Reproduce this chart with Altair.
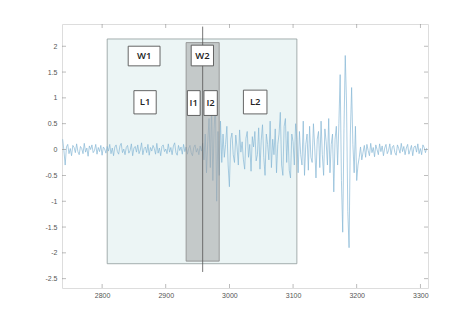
import altair as alt
import pandas as pd

# ---- signal (sampled every 2 units starting at 2738) ----
x_start = 2738
x_step = 2
sig_a = [0.2, -0.02, -0.3, 0.05, 0.1, -0.08, 0.02, -0.12, 0.08, 0.04, -0.06, 0.11, -0.04, -0.1, 0.06,
         0.02, -0.08, 0.12, -0.05, 0.03, -0.13, 0.07, 0.0, 0.09, -0.06, -0.02, 0.1, -0.09, 0.04, -0.04,
         0.08, -0.11, 0.05, 0.01, -0.07]
sig_b = [0.06, -0.03, 0.1, -0.08, 0.03, -0.12, 0.05, 0.09, -0.04, -0.09, 0.07, 0.12, -0.06, 0.01, -0.1,
         0.04, 0.08, -0.07, -0.02, 0.11, -0.12, 0.03, 0.06, -0.05, 0.09, -0.08, -0.01, 0.13, -0.1, 0.02,
         0.05, -0.06, 0.1, -0.11, 0.04, -0.03, 0.08, 0.02, -0.09, 0.12, -0.07, 0.03, -0.12, 0.06, 0.09,
         -0.04, 0.01, -0.08, 0.11, -0.05, 0.04, -0.1, 0.07, 0.13, -0.06, -0.11, 0.08, -0.02, 0.05, -0.09,
         0.1, -0.04]
sig_c = [0.05, -0.09, 0.02, 0.08, -0.06, -0.12, 0.04, 0.09, -0.05, 0.02, -0.1, 0.07, -0.03]
sig_d = [0.12, -0.2, 0.3, -0.45, 0.15, 0.6, -0.35, 0.85, -0.6, 0.4, 0.92, -1.0, 0.35, -0.5, 0.55,
         -0.25, 0.3]
sig_e = [-0.15, 0.1, 0.45, -0.3, -0.72, 0.2, 0.32, -0.1, -0.25, 0.28, 0.05, -0.3, 0.38, -0.05, 0.15,
         -0.2, -0.38, 0.22, 0.35, -0.15]
sig_f = [0.1, -0.42, 0.25, 0.05, 0.35, -0.22, -0.1, 0.42, -0.38, 0.18, 0.48, -0.15, -0.5, 0.3, 0.1,
         -0.2, 0.55, -0.35, 0.2, -0.1, 0.4, -0.45, 0.1, 0.3, 0.72, -0.3, -0.5, 0.45, 0.6, -0.25,
         0.35, -0.4, -0.55, 0.3, 0.15]
sig_g = [-0.3, 0.5, 0.2, -0.45, 0.35, -0.1, -0.3, 0.55, -0.5, 0.1, 0.3, -0.4, 0.45, -0.15, -0.25,
         0.5, 0.05, -0.55, 0.2, 0.35, -0.35, 0.55, -0.1, -0.5, 0.4, 0.15, -0.3, 0.6, -0.45, 0.1,
         0.3, -0.82, 0.2, 0.45, -0.3]
sig_h = [0.5, 1.45, -0.6, -1.6, 0.4, 1.82, 0.9, -1.2, -1.9, 0.3, 1.2, 0.1, -0.45, 0.45]
sig_i = [-0.6, -0.3, -0.15, 0.05, -0.2, -0.05, 0.08, -0.15, 0.1, -0.02, -0.12, 0.12, -0.06, 0.04,
         -0.14, 0.09, 0.0, -0.1, 0.11]
sig_j = [-0.04, 0.07, -0.12, 0.03, 0.1, -0.08, -0.02, 0.11, -0.1, 0.05, 0.08, -0.06, -0.11, 0.09,
         0.02, -0.07, 0.12, -0.04, 0.06, -0.1, 0.03, 0.1, -0.09, -0.01, 0.08, -0.12, 0.05, 0.07,
         -0.05, 0.11, -0.08, 0.02, -0.1, 0.09, 0.04, -0.06, 0.03]
signal = sig_a + sig_b + sig_c + sig_d + sig_e + sig_f + sig_g + sig_h + sig_i + sig_j

# ---- windows ----
win_x1 = [2808, 2932]
win_x2 = [3106, 2984]
win_y1 = [-2.21, -2.16]
win_y2 = [2.14, 2.07]

# ---- vertical marker ----
marker_x = [2958]
marker_y1 = [-2.37]
marker_y2 = [2.38]

# ---- label boxes ----
box_text = ["W1", "W2", "L1", "I1", "I2", "L2"]
box_x1 = [2841, 2940, 2850, 2934, 2960, 3022]
box_x2 = [2891, 2975, 2885, 2954, 2981, 3059]
box_y1 = [1.62, 1.62, 0.69, 0.66, 0.66, 0.69]
box_y2 = [2.0, 2.02, 1.14, 1.14, 1.14, 1.15]

x_ticks = [2800, 2900, 3000, 3100, 3200, 3300]
y_ticks = [-2.5, -2, -1.5, -1, -0.5, 0, 0.5, 1, 1.5, 2]
x_domain = [2737, 3312]
y_domain = [-2.68, 2.43]

sig_df = pd.DataFrame({"x": [x_start + x_step * i for i in range(len(signal))], "y": signal})
win_df = pd.DataFrame({"x1": win_x1, "x2": win_x2, "y1": win_y1, "y2": win_y2})
mk_df = pd.DataFrame({"x": marker_x, "y1": marker_y1, "y2": marker_y2})
box_df = pd.DataFrame({"t": box_text, "x1": box_x1, "x2": box_x2, "y1": box_y1, "y2": box_y2})
box_df["xc"] = (box_df["x1"] + box_df["x2"]) / 2
box_df["yc"] = (box_df["y1"] + box_df["y2"]) / 2
xt_df = pd.DataFrame({"x": x_ticks})
yt_df = pd.DataFrame({"y": y_ticks})

xs = alt.Scale(domain=x_domain, nice=False, zero=False)
ys = alt.Scale(domain=y_domain, nice=False, zero=False)

x_axis = alt.Axis(values=x_ticks, format="d", grid=False, domain=False, tickSize=0,
                  labelFontSize=7, labelColor="#555", labelPadding=3, title=None,
                  labelFont="Liberation Sans", labelOverlap=False)
y_axis = alt.Axis(values=y_ticks, labelExpr="toString(datum.value)", grid=False, domain=False,
                  tickSize=0, labelFontSize=7, labelColor="#555", labelPadding=5, title=None,
                  labelFont="Liberation Sans", labelOverlap=False)


def X(f):
    return alt.X(f, scale=xs, axis=x_axis)


def Y(f):
    return alt.Y(f, scale=ys, axis=y_axis)


big = alt.Chart(win_df.iloc[[0]]).mark_rect(fill="#ecf5f5", stroke="#8f9b9b", strokeWidth=0.8).encode(
    x=X("x1:Q"), x2="x2:Q", y=Y("y1:Q"), y2="y2:Q")

line = alt.Chart(sig_df).mark_line(color="#86b8d6", strokeWidth=0.7).encode(
    x=X("x:Q"), y=Y("y:Q"))

gray = alt.Chart(win_df.iloc[[1]]).mark_rect(fill="#a4a4a4", fillOpacity=0.55, stroke="#8a8a8a",
                                              strokeWidth=0.8).encode(
    x=X("x1:Q"), x2="x2:Q", y=Y("y1:Q"), y2="y2:Q")

mk = alt.Chart(mk_df).mark_rule(color="#555", strokeWidth=0.8).encode(
    x=X("x:Q"), y=Y("y1:Q"), y2="y2:Q")

boxes = alt.Chart(box_df).mark_rect(fill="white", stroke="#555", strokeWidth=0.9).encode(
    x=X("x1:Q"), x2="x2:Q", y=Y("y1:Q"), y2="y2:Q")

texts = alt.Chart(box_df).mark_text(font="Open Sans", fontSize=9.5, fontWeight=600, color="#222").encode(
    x=X("xc:Q"), y=Y("yc:Q"), text="t:N")

H = 264
W = 366
tick_b = alt.Chart(xt_df).mark_tick(color="#888", size=4, thickness=0.8).encode(
    x=X("x:Q"), y=alt.value(H - 2))
tick_t = alt.Chart(xt_df).mark_tick(color="#888", size=4, thickness=0.8).encode(
    x=X("x:Q"), y=alt.value(2))
tick_l = alt.Chart(yt_df).mark_tick(color="#888", size=4, thickness=0.8, orient="horizontal").encode(
    y=Y("y:Q"), x=alt.value(2))
tick_r = alt.Chart(yt_df).mark_tick(color="#888", size=4, thickness=0.8, orient="horizontal").encode(
    y=Y("y:Q"), x=alt.value(W - 2))

chart = alt.layer(big, line, gray, mk, boxes, texts, tick_b, tick_t, tick_l, tick_r).properties(
    width=W, height=H,
    autosize=alt.AutoSizeParams(type="none"),
    padding={"left": 62, "top": 24, "right": 46, "bottom": 36},
).configure_view(stroke="#9a9a9a", strokeWidth=0.8).configure_axis(
    labelOverlap=False).configure(background="white")

chart.save("out.html", embed_options={"renderer": "svg", "actions": False})
